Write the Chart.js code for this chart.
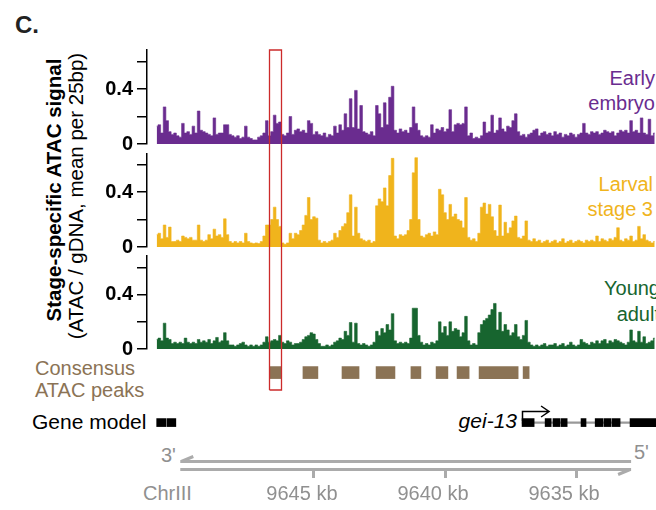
<!DOCTYPE html>
<html><head><meta charset="utf-8">
<script src="https://cdn.jsdelivr.net/npm/chart.js@4/dist/chart.umd.min.js"></script>
<style>
html,body{margin:0;padding:0;background:#fff;}
body{width:656px;height:510px;position:relative;overflow:hidden;font-family:"Liberation Sans",Arial,Helvetica,sans-serif;}
canvas{position:absolute;left:0;}
.t{position:absolute;white-space:nowrap;}
.rot{position:absolute;width:320px;height:22px;line-height:22px;text-align:center;transform:rotate(-90deg);white-space:nowrap;color:#000;}
</style></head><body>
<div class="t" style="left:15px;top:11px;font-weight:bold;font-size:24px;line-height:28px;color:#222;">C.</div>
<div class="rot" style="left:-106px;top:179px;font-weight:bold;font-size:20.5px;">Stage-specific ATAC signal</div>
<div class="rot" style="left:-84px;top:185px;font-size:20.5px;">(ATAC / gDNA, mean per 25bp)</div>
<div class="t" style="right:1px;top:66px;text-align:right;font-size:20px;line-height:25px;color:#6a2c8f;">Early<br>embryo</div>
<div class="t" style="right:3px;top:172px;text-align:right;font-size:20px;line-height:25px;color:#f0b41c;">Larval<br>stage 3</div>
<div class="t" style="right:-4px;top:275px;text-align:right;font-size:20px;line-height:26px;color:#17652f;">Young<br>adult</div>
<div class="t" style="left:35px;top:357px;font-size:20px;line-height:22px;color:#8b7355;">Consensus<br>ATAC peaks</div>
<div class="t" style="left:32px;top:410px;font-size:21px;line-height:24px;color:#000;">Gene model</div>
<div class="t" style="right:139px;top:409px;font-size:21px;line-height:24px;font-style:italic;color:#000;">gei-13</div>
<div class="t" style="left:161px;top:444px;font-size:20px;line-height:22px;color:#909090;">3'</div>
<div class="t" style="left:634px;top:441px;font-size:20px;line-height:22px;color:#909090;">5'</div>
<div class="t" style="left:143px;top:482px;font-size:20px;line-height:22px;color:#909090;">ChrIII</div>

<canvas id="t1" width="656" height="113" style="top:40px"></canvas>
<canvas id="t2" width="656" height="102" style="top:153px"></canvas>
<canvas id="t3" width="656" height="102" style="top:255px"></canvas>
<canvas id="bt" width="656" height="153" style="top:357px"></canvas>

<script>
// ---- data ----
const binStartKb = 9651.0;   // first 0.1-kb bin (left edge of the tracks)
const binStepKb = 0.1;       // genome runs right-to-left (decreasing kb)
const earlyEmbryo = [0.13,0.14,0.08,0.27,0.17,0.09,0.07,0.08,0.06,0.05, 0.15,0.08,0.09,0.07,0.13,0.08,0.24,0.10,0.09,0.08, 0.07,0.06,0.19,0.07,0.08,0.08,0.14,0.14,0.07,0.06, 0.05,0.06,0.04,0.05,0.13,0.05,0.04,0.03,0.03,0.05, 0.06,0.08,0.17,0.06,0.09,0.21,0.15,0.16,0.07,0.06, 0.08,0.20,0.07,0.10,0.11,0.09,0.10,0.08,0.17,0.15, 0.07,0.09,0.07,0.06,0.08,0.05,0.07,0.06,0.13,0.08, 0.14,0.10,0.22,0.12,0.33,0.12,0.39,0.11,0.28,0.09, 0.08,0.07,0.09,0.06,0.28,0.22,0.12,0.30,0.14,0.34, 0.42,0.10,0.08,0.11,0.09,0.10,0.08,0.12,0.27,0.15, 0.10,0.06,0.05,0.06,0.05,0.14,0.08,0.11,0.10,0.12, 0.09,0.11,0.25,0.09,0.14,0.15,0.14,0.15,0.27,0.06, 0.08,0.04,0.05,0.04,0.06,0.16,0.08,0.09,0.21,0.08, 0.10,0.19,0.11,0.09,0.13,0.12,0.17,0.22,0.09,0.06, 0.07,0.05,0.07,0.08,0.10,0.11,0.06,0.08,0.09,0.07, 0.08,0.06,0.09,0.07,0.08,0.05,0.07,0.06,0.08,0.07, 0.05,0.07,0.08,0.15,0.08,0.07,0.09,0.08,0.09,0.07, 0.08,0.10,0.09,0.08,0.09,0.06,0.08,0.10,0.09,0.10, 0.08,0.17,0.09,0.10,0.08,0.19,0.08,0.07,0.18,0.06, 0.08];
const larvalStage3 = [0.09,0.10,0.06,0.16,0.07,0.145,0.04,0.04,0.05,0.04, 0.08,0.07,0.06,0.07,0.05,0.05,0.16,0.05,0.04,0.05, 0.09,0.06,0.13,0.08,0.09,0.07,0.205,0.09,0.04,0.03, 0.04,0.03,0.04,0.03,0.10,0.04,0.03,0.025,0.03,0.025, 0.04,0.08,0.16,0.16,0.20,0.29,0.20,0.15,0.03,0.02, 0.03,0.10,0.06,0.10,0.09,0.12,0.16,0.23,0.36,0.20, 0.22,0.21,0.05,0.03,0.04,0.03,0.04,0.05,0.10,0.07, 0.12,0.15,0.17,0.25,0.38,0.08,0.29,0.10,0.06,0.05, 0.04,0.05,0.03,0.04,0.30,0.35,0.33,0.43,0.30,0.52, 0.645,0.08,0.06,0.09,0.08,0.09,0.12,0.20,0.54,0.65, 0.20,0.08,0.07,0.09,0.10,0.08,0.11,0.09,0.42,0.38, 0.25,0.20,0.31,0.22,0.24,0.20,0.19,0.14,0.36,0.07, 0.05,0.06,0.04,0.10,0.29,0.32,0.24,0.31,0.22,0.12, 0.08,0.305,0.08,0.18,0.10,0.14,0.19,0.225,0.07,0.06, 0.08,0.19,0.05,0.04,0.06,0.04,0.05,0.03,0.04,0.05, 0.03,0.04,0.05,0.03,0.04,0.06,0.03,0.04,0.05,0.03, 0.04,0.05,0.04,0.03,0.05,0.04,0.05,0.04,0.08,0.04, 0.06,0.05,0.04,0.06,0.05,0.07,0.14,0.05,0.04,0.06, 0.05,0.08,0.04,0.05,0.15,0.06,0.09,0.05,0.04,0.03, 0.04];
const youngAdult = [0.07,0.08,0.06,0.19,0.08,0.07,0.04,0.05,0.04,0.05, 0.04,0.08,0.05,0.04,0.05,0.04,0.07,0.05,0.06,0.05, 0.07,0.04,0.06,0.085,0.05,0.06,0.12,0.06,0.03,0.03, 0.02,0.03,0.04,0.05,0.03,0.02,0.03,0.02,0.03,0.02, 0.03,0.05,0.09,0.05,0.06,0.07,0.06,0.10,0.05,0.04, 0.06,0.05,0.03,0.04,0.04,0.05,0.07,0.09,0.10,0.12, 0.11,0.07,0.04,0.02,0.02,0.03,0.02,0.03,0.05,0.06, 0.08,0.07,0.13,0.10,0.195,0.05,0.19,0.04,0.03,0.04, 0.03,0.02,0.03,0.05,0.13,0.10,0.15,0.12,0.18,0.14, 0.26,0.06,0.04,0.05,0.04,0.05,0.04,0.08,0.30,0.30, 0.10,0.05,0.03,0.04,0.03,0.05,0.04,0.06,0.20,0.12, 0.165,0.10,0.20,0.13,0.15,0.14,0.09,0.12,0.24,0.06, 0.03,0.04,0.03,0.12,0.18,0.21,0.225,0.25,0.29,0.335, 0.14,0.27,0.13,0.18,0.14,0.10,0.12,0.18,0.09,0.07, 0.10,0.21,0.05,0.03,0.02,0.03,0.02,0.03,0.04,0.02, 0.03,0.03,0.04,0.02,0.03,0.04,0.02,0.03,0.05,0.03, 0.02,0.03,0.07,0.05,0.04,0.03,0.05,0.04,0.06,0.04, 0.06,0.07,0.04,0.06,0.05,0.07,0.06,0.05,0.04,0.03, 0.05,0.14,0.06,0.05,0.13,0.05,0.09,0.04,0.05,0.06, 0.08];
const yTickValues = [0, 0.2, 0.4, 0.6];
const yTickLabels = ['0', '', '0.4', ''];
const xTickValues = [9645, 9640, 9635];
const xTickLabels = ['9645 kb', '9640 kb', '9635 kb'];
const highlightKb = [9646.72, 9646.26];
const peakStartKb = [9646.68, 9645.42, 9643.93, 9642.63, 9641.30, 9640.34, 9639.54, 9638.70, 9637.02];
const peakEndKb   = [9646.26, 9644.85, 9643.28, 9641.91, 9640.92, 9639.89, 9639.08, 9637.21, 9636.79];
const exonStartKb = [9651.00, 9650.60, 9637.06, 9636.18, 9635.88, 9635.58, 9634.81, 9634.27, 9633.94, 9633.63, 9632.94];
const exonEndKb   = [9650.64, 9650.27, 9636.60, 9635.95, 9635.62, 9635.34, 9634.62, 9633.98, 9633.67, 9633.32, 9631.50];
const geneSpanKb = [9637.06, 9631.50];
const tssKb = 9637.05, tssArrowTipKb = 9636.03;
const strandKb = [9650.10, 9632.90];

// ---- layout / style ----
const X_MIN = 9631.95, X_MAX = 9651.37, Y_MAX = 0.684;
const PURPLE = '#6a2c8f', GOLD = '#f0b41c', GREEN = '#17652f', BROWN = '#8b7355', RED = '#cc2b2b', GRAY = '#ababab', GRAYTXT = '#909090';
const PEAK_ROW = 7.5, GENE_ROW = 67.5;
Chart.defaults.font.family = '"Liberation Sans", Arial, Helvetica, sans-serif';

const positionsKb = earlyEmbryo.map((_, i) => +(binStartKb - i * binStepKb).toFixed(2));

function makeHighlight(top, bottom) {
  return { id: 'hl', afterDraw(chart) {
    const xs = chart.scales.x, ctx = chart.ctx;
    const a = Math.round(xs.getPixelForValue(highlightKb[0])) + 0.5;
    const b = Math.round(xs.getPixelForValue(highlightKb[1])) + 0.5;
    const t = top == null ? -2 : top, bt = bottom == null ? chart.height + 2 : bottom;
    ctx.save(); ctx.strokeStyle = RED; ctx.lineWidth = 1.3; ctx.beginPath();
    ctx.moveTo(a, bt); ctx.lineTo(a, t);
    if (top != null) ctx.lineTo(b, t); else ctx.moveTo(b, t);
    ctx.lineTo(b, bt);
    if (bottom != null) ctx.lineTo(a, bt);
    ctx.stroke(); ctx.restore();
  }};
}

function trackChart(id, values, color, padTop, padBottom, hlTop, hlBottom) {
  return new Chart(document.getElementById(id), {
    type: 'line',
    data: { datasets: [{ data: positionsKb.map((x, i) => ({ x, y: values[i] })), backgroundColor: color, borderColor: color,
      borderWidth: 0.6, fill: 'origin', pointRadius: 0, stepped: 'middle', tension: 0 }] },
    options: { responsive: false, animation: false, events: [],
      layout: { padding: { left: 0, right: 0, top: padTop, bottom: padBottom } },
      plugins: { legend: { display: false }, tooltip: { enabled: false } },
      scales: {
        x: { type: 'linear', reverse: true, min: X_MIN, max: X_MAX, display: false },
        y: { min: 0, max: Y_MAX,
          afterBuildTicks: s => { s.ticks = yTickValues.map(v => ({ value: v })); },
          afterFit: s => { s.width = 147; s.paddingTop = 0; s.paddingBottom = 0; },
          ticks: { callback: (v, i) => yTickLabels[i], color: '#000', font: { size: 20, weight: 'bold' }, padding: 4, autoSkip: false },
          grid: { drawOnChartArea: false, drawTicks: true, tickLength: 10, color: '#000', lineWidth: 1.5 },
          border: { display: true, color: '#000', width: 1.5 } }
      } },
    plugins: [makeHighlight(hlTop, hlBottom)]
  });
}

trackChart('t1', earlyEmbryo, PURPLE, 10, 9, 10, null);
trackChart('t2', larvalStage3, GOLD, 0, 8, null, null);
trackChart('t3', youngAdult, GREEN, 1, 8, null, null);

const genomicPlugin = { id: 'genomic', afterDraw(chart) {
  const xs = chart.scales.x, ctx = chart.ctx;
  const xl = xs.getPixelForValue(strandKb[0]), xr = xs.getPixelForValue(strandKb[1]);
  const yU = 104.5, yL = 112.5;
  ctx.save();
  ctx.strokeStyle = GRAY; ctx.lineWidth = 3; ctx.lineCap = 'butt';
  ctx.beginPath();
  ctx.moveTo(xl, yU); ctx.lineTo(xr, yU);
  ctx.moveTo(xl, yL); ctx.lineTo(xr, yL);
  ctx.moveTo(xl + 1, yU); ctx.lineTo(xl + 13, yU - 5);
  ctx.moveTo(xr - 1, yL); ctx.lineTo(xr - 13, yL + 5);
  ctx.stroke();
  // TSS arrow of gei-13
  const xt = Math.round(xs.getPixelForValue(tssKb)) + 0.5, xa = xs.getPixelForValue(tssArrowTipKb), ya = 54.5;
  ctx.strokeStyle = '#000'; ctx.lineWidth = 1.5;
  ctx.beginPath();
  ctx.moveTo(xt, 64); ctx.lineTo(xt, ya); ctx.lineTo(xa, ya);
  ctx.moveTo(xa - 8, ya - 5.5); ctx.lineTo(xa, ya); ctx.lineTo(xa - 8, ya + 5.5);
  ctx.stroke();
  ctx.restore();
}};

new Chart(document.getElementById('bt'), {
  type: 'bar',
  data: { datasets: [
    { data: peakStartKb.map((s, i) => ({ y: PEAK_ROW, x: [s, peakEndKb[i]] })), backgroundColor: BROWN, barThickness: 12, grouped: false, order: 3 },
    { data: [{ y: GENE_ROW, x: geneSpanKb }], backgroundColor: '#999', barThickness: 1.5, grouped: false, order: 2 },
    { data: exonStartKb.map((s, i) => ({ y: GENE_ROW, x: [s, exonEndKb[i]] })), backgroundColor: '#000', barThickness: 8, grouped: false, order: 1 }
  ] },
  options: { indexAxis: 'y', responsive: false, animation: false, events: [],
    layout: { padding: { left: 147, right: 0, top: 0, bottom: 0 } },
    plugins: { legend: { display: false }, tooltip: { enabled: false } },
    scales: {
      y: { type: 'linear', min: 0, max: 112, reverse: true, display: false },
      x: { type: 'linear', reverse: true, min: X_MIN, max: X_MAX, position: 'bottom',
        afterBuildTicks: s => { s.ticks = xTickValues.map(v => ({ value: v })); },
        afterFit: s => { s.height = 41; s.paddingLeft = 0; s.paddingRight = 0; },
        ticks: { callback: (v, i) => xTickLabels[i], color: GRAYTXT, font: { size: 20 }, padding: 4, labelOffset: -12, maxRotation: 0, autoSkip: false },
        grid: { drawOnChartArea: false, drawTicks: true, tickLength: 9, color: GRAY, lineWidth: 3 },
        border: { display: false } }
    } },
  plugins: [genomicPlugin, makeHighlight(null, 33)]
});
</script>
</body></html>
